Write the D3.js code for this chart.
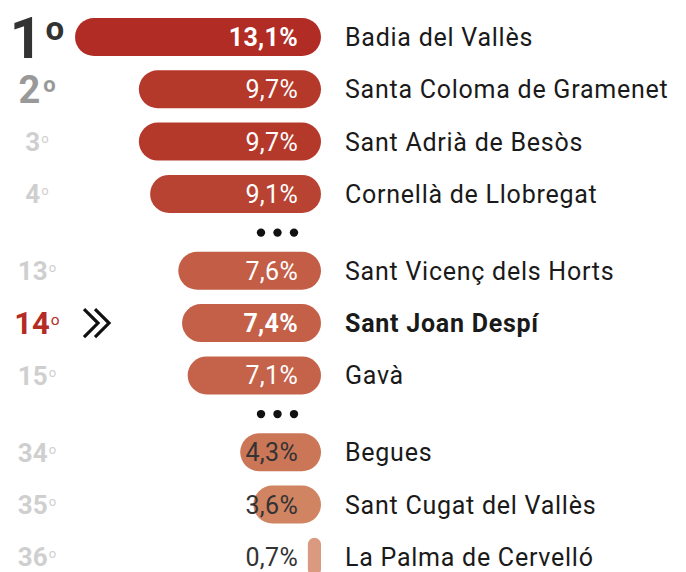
<!DOCTYPE html>
<html>
<head>
<meta charset="utf-8">
<script src="https://cdn.jsdelivr.net/npm/d3@7"></script>
<style>
  html, body { margin: 0; padding: 0; background: #fff; }
  svg { display: block; font-family: Roboto, "Noto Sans", sans-serif; }
</style>
</head>
<body>
<div id="chart"></div>
<script>
// Rank, municipality and share (%)
const ranks = [1, 2, 3, 4, 13, 14, 15, 34, 35, 36];
const names = [
  "Badia del Vallès",
  "Santa Coloma de Gramenet",
  "Sant Adrià de Besòs",
  "Cornellà de Llobregat",
  "Sant Vicenç dels Horts",
  "Sant Joan Despí",
  "Gavà",
  "Begues",
  "Sant Cugat del Vallès",
  "La Palma de Cervelló"
];
const values = [13.1, 9.7, 9.7, 9.1, 7.6, 7.4, 7.1, 4.3, 3.6, 0.7];
const highlight = "Sant Joan Despí";

const width = 686, height = 572;
const barRight = 321;

const svg = d3.select("#chart").append("svg")
  .attr("width", width)
  .attr("height", height);

// rows: a break in ranks adds a bit under half a row for the "•••"
let slot = 0;
const rows = ranks.map((r, i) => {
  const gap = i > 0 && r - ranks[i - 1] > 1;
  if (i > 0) slot += gap ? 1.47 : 1;
  return { rank: r, name: names[i], value: values[i], slot: slot, gapBefore: gap };
});

const y = d3.scaleLinear().domain([0, 10]).range([37, 560]);
const x = d3.scaleLinear().domain([0, d3.max(values)]).range([0, 246]);
const color = d3.scaleLinear()
  .domain([0.7, 3.6, 4.3, 7.4, 9.7, 13.1])
  .range(["#d99a80", "#d08462", "#cc7658", "#c46048", "#b5392b", "#b22c26"]);

const barH = 38;

const g = svg.append("g");

const row = g.selectAll("g.row")
  .data(rows)
  .join("g")
  .attr("class", "row")
  .attr("transform", d => `translate(0,${y(d.slot)})`);

// bars
row.append("rect")
  .attr("x", d => barRight - x(d.value))
  .attr("y", -barH / 2)
  .attr("width", d => x(d.value))
  .attr("height", barH)
  .attr("rx", d => Math.min(barH / 2, x(d.value) / 2))
  .attr("fill", d => color(d.value));

// value labels
row.append("text")
  .attr("x", 298)
  .attr("y", 0)
  .attr("dy", "0.36em")
  .attr("text-anchor", "end")
  .style("font-size", "25px")
  .style("letter-spacing", "0.3px")
  .style("font-weight", d => (d.rank === 1 || d.name === highlight) ? 700 : 400)
  .attr("fill", d => x(d.value) > 100 ? "#fff" : "#333")
  .text(d => d3.format(".1f")(d.value).replace(".", ",") + "%");

// names
row.append("text")
  .attr("x", 345)
  .attr("y", 0)
  .attr("dy", "0.36em")
  .style("font-size", "25px")
  .style("letter-spacing", "0.75px")
  .style("font-weight", d => d.name === highlight ? 700 : 400)
  .attr("fill", "#1a1a1a")
  .text(d => d.name);

// rank labels
function rankStyle(d) {
  if (d.rank === 1) return { size: 57, color: "#333" };
  if (d.rank === 2) return { size: 38, color: "#999" };
  if (d.name === highlight) return { size: 31, color: "#b52b25" };
  return { size: 26, color: "#cfcfcf" };
}
const rankText = row.append("text")
  .attr("x", 37)
  .attr("y", 0)
  .attr("dy", "0.36em")
  .attr("text-anchor", "middle")
  .style("font-weight", 700)
  .attr("fill", d => rankStyle(d).color)
  .style("font-size", d => rankStyle(d).size + "px");
rankText.append("tspan").text(d => d.rank);
rankText.append("tspan")
  .attr("dx", d => d.rank <= 2 ? 3 : 1)
  .attr("dy", d => -rankStyle(d).size * 0.3)
  .style("font-size", d => (rankStyle(d).size * (d.rank <= 2 ? 0.58 : 0.5)) + "px")
  .style("font-weight", d => d.rank <= 2 ? 700 : 400)
  .text("o");

// chevron for the highlighted row
row.filter(d => d.name === highlight)
  .append("path")
  .attr("d", "M84,-14 L98,0 L84,14 M95,-14 L109,0 L95,14")
  .attr("fill", "none")
  .attr("stroke", "#111")
  .attr("stroke-width", 3.2);

// "•••" between rank breaks
const gaps = rows.filter(d => d.gapBefore);
gaps.forEach(d => {
  const gy = y(d.slot - 0.73);
  [0, 1, 2].forEach(k => {
    g.append("circle")
      .attr("cx", 261 + k * 16.5)
      .attr("cy", gy)
      .attr("r", 4.2)
      .attr("fill", "#111");
  });
});
</script>
</body>
</html>
